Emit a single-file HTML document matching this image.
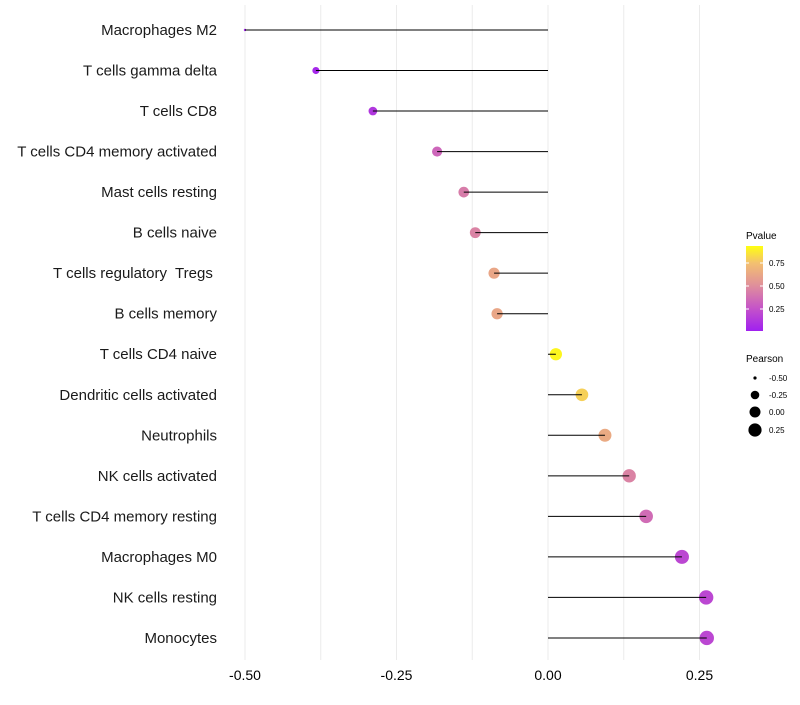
<!DOCTYPE html>
<html><head><meta charset="utf-8"><style>
body{margin:0;background:#fff;font-family:"Liberation Sans",sans-serif}
text{white-space:pre}
</style></head><body>
<svg id="chart" width="800" height="700" xmlns="http://www.w3.org/2000/svg">
<defs><linearGradient id="pg" x1="0" y1="1" x2="0" y2="0">
<stop offset="0" stop-color="#a020f0"/><stop offset="0.27" stop-color="#c554c8"/><stop offset="0.54" stop-color="#e0909a"/><stop offset="0.8" stop-color="#f3c070"/><stop offset="1" stop-color="#ffff10"/></linearGradient></defs>
<g id="grid"></g><g id="dots"></g><g id="marks"></g><g id="labels"></g>
</svg>
<script>
const categories=["Macrophages M2","T cells gamma delta","T cells CD8","T cells CD4 memory activated","Mast cells resting","B cells naive","T cells regulatory  Tregs ","B cells memory","T cells CD4 naive","Dendritic cells activated","Neutrophils","NK cells activated","T cells CD4 memory resting","Macrophages M0","NK cells resting","Monocytes"];
const pearson=[-0.50,-0.383,-0.289,-0.183,-0.139,-0.120,-0.089,-0.084,0.013,0.056,0.094,0.134,0.162,0.221,0.261,0.262];
const pvalue=[0.02,0.04,0.12,0.35,0.45,0.48,0.66,0.66,0.97,0.85,0.68,0.48,0.38,0.2,0.2,0.2];
const xTicks=[-0.5,-0.25,0,0.25];
const xTickLabels=["-0.50","-0.25","0.00","0.25"];
const NS="http://www.w3.org/2000/svg";
const x=v=>548+v*606;
const y=i=>30+i*40.53;
const pmin=Math.min(...pearson),pmax=Math.max(...pearson);
const r=p=>1.2*(1+5*Math.sqrt(Math.max(0,(p-pmin)/(pmax-pmin))));
function col(p){const s=[[0,[160,32,240]],[0.27,[197,84,200]],[0.54,[224,144,154]],[0.8,[243,192,112]],[1,[255,255,16]]];
for(let k=1;k<s.length;k++){if(p<=s[k][0]){const t=(p-s[k-1][0])/(s[k][0]-s[k-1][0]);const c=s[k-1][1].map((a,j)=>Math.round(a+(s[k][1][j]-a)*t));return`rgb(${c})`;}}return"rgb(255,255,16)";}
function mk(tag,a,par){const e=document.createElementNS(NS,tag);for(const k in a)e.setAttribute(k,a[k]);document.getElementById(par).appendChild(e);return e;}
for(let v=-0.5;v<=0.3;v+=0.125){const g=mk("line",{x1:x(v),x2:x(v),y1:5,y2:660,stroke:"#ebebeb","stroke-width":1},"grid");

}
xTicks.forEach((v,i)=>{const t=mk("text",{x:x(v),y:680,"text-anchor":"middle","font-size":14,fill:"#000"},"labels");t.textContent=xTickLabels[i];

});
categories.forEach((c,i)=>{
const t=mk("text",{x:217,y:y(i)+5,"text-anchor":"end","font-size":15,fill:"#1a1a1a"},"labels");t.textContent=c;


const d=mk("circle",{cx:x(pearson[i]),cy:y(i),r:r(pearson[i]),fill:col(pvalue[i])},"dots");


const l=mk("line",{x1:x(0),x2:x(pearson[i]),y1:y(i),y2:y(i),stroke:"#000","stroke-width":1},"marks");


});
</script>
<svg style="position:absolute;left:0;top:0" width="800" height="700">
<text x="746" y="239" font-size="10" font-family="Liberation Sans">Pvalue</text>
<rect x="746" y="246" width="17" height="85" fill="url(#pg)"/>
<g stroke="#fff" stroke-width="1"><line x1="746" x2="749" y1="263" y2="263"/><line x1="760" x2="763" y1="263" y2="263"/><line x1="746" x2="749" y1="286" y2="286"/><line x1="760" x2="763" y1="286" y2="286"/><line x1="746" x2="749" y1="309" y2="309"/><line x1="760" x2="763" y1="309" y2="309"/></g>
<g font-size="8" font-family="Liberation Sans"><text x="769" y="266">0.75</text><text x="769" y="289">0.50</text><text x="769" y="312">0.25</text></g>
<text x="746" y="362" font-size="10" font-family="Liberation Sans">Pearson</text>
<g fill="#000"><circle cx="755" cy="378" r="1.6"/><circle cx="755" cy="395" r="4.3"/><circle cx="755" cy="412" r="5.5"/><circle cx="755" cy="430" r="6.6"/></g>
<g font-size="8" font-family="Liberation Sans"><text x="769" y="381">-0.50</text><text x="769" y="398">-0.25</text><text x="769" y="415">0.00</text><text x="769" y="433">0.25</text></g>
</svg>
</body></html>
